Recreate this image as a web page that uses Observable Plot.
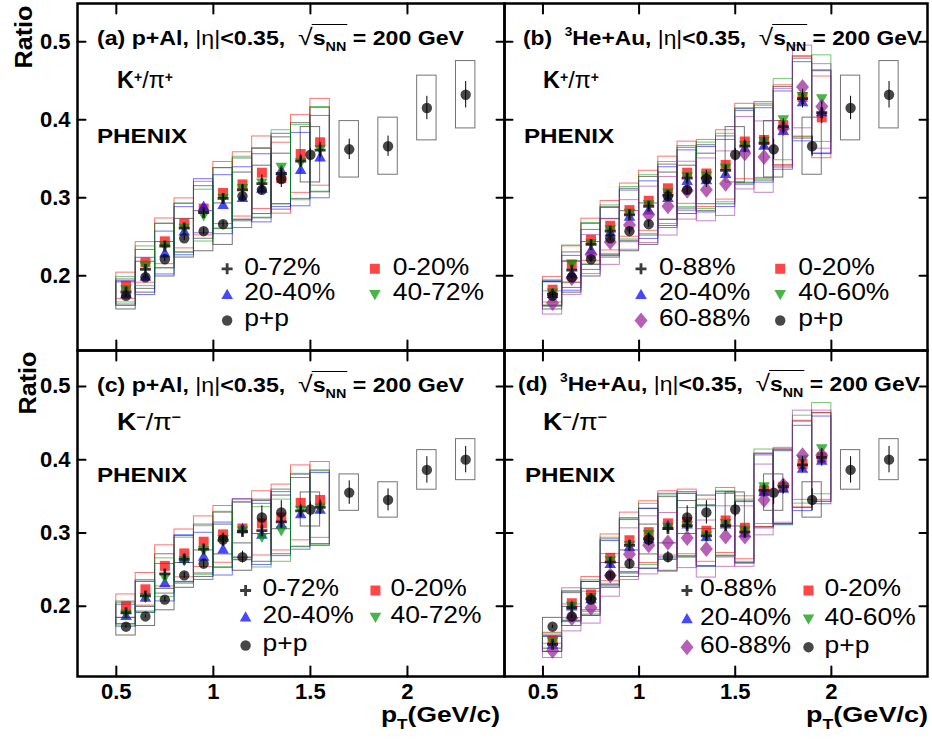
<!DOCTYPE html>
<html><head><meta charset="utf-8">
<script src="https://cdn.jsdelivr.net/npm/d3@7"></script>
<script src="https://cdn.jsdelivr.net/npm/@observablehq/plot@0.6"></script>
<style>
html,body{margin:0;padding:0;background:#fff;}
#wrap{position:relative;width:932px;height:741px;overflow:hidden;background:#fff;}
#wrap svg{position:absolute;}
</style></head><body><div id="wrap"></div>
<script>
// ---------------- DATA ----------------
const ptAl = [0.55,0.65,0.75,0.85,0.95,1.05,1.15,1.25,1.35,1.45,1.55];
const ptAu = [0.55,0.65,0.75,0.85,0.95,1.05,1.15,1.25,1.35,1.45,1.55,1.65,1.75,1.85,1.95];
const ptPP = [0.55,0.65,0.75,0.85,0.95,1.05,1.15,1.25,1.35,1.5,1.7,1.9,2.1,2.3];
const xTicks = [0.5,1,1.5,2];
const yTicks = [0.2,0.3,0.4,0.5];
const centAl = ["0-72%","0-20%","20-40%","40-72%"];
const centAu = ["0-88%","0-20%","20-40%","40-60%","60-88%"];
const ppLabel = "p+p";

// (a) p+Al K+/pi+
const alKp_0_72  = [0.179,0.208,0.238,0.261,0.281,0.299,0.310,0.318,0.331,0.347,0.361];
const alKp_0_20  = [0.187,0.217,0.244,0.267,0.286,0.306,0.317,0.332,0.325,0.356,0.371];
const alKp_20_40 = [0.177,0.199,0.229,0.257,0.289,0.291,0.300,0.312,0.335,0.336,0.352];
const alKp_40_72 = [0.182,0.212,0.238,0.261,0.277,0.299,0.312,0.319,0.339,0.345,0.362];
const alKp_0_72_stat = [0.002,0.003,0.003,0.004,0.004,0.005,0.007,0.011,0.008,0.008,0.010];
const alKp_sys = [0.09,0.12,0.12,0.12,0.12,0.13,0.13,0.14,0.14,0.14,0.15];

// (b) 3He+Au K+/pi+
const auKp_0_88  = [0.176,0.207,0.240,0.257,0.278,0.289,0.303,0.325,0.325,0.335,0.366,0.370,0.391,0.427,0.409];
const auKp_0_20  = [0.182,0.214,0.246,0.264,0.284,0.296,0.312,0.332,0.331,0.342,0.372,0.374,0.393,0.429,0.403];
const auKp_20_40 = [0.177,0.203,0.233,0.256,0.276,0.284,0.300,0.322,0.323,0.331,0.364,0.367,0.386,0.423,0.410];
const auKp_40_60 = [0.178,0.215,0.241,0.259,0.280,0.291,0.306,0.327,0.328,0.338,0.367,0.372,0.400,0.430,0.427];
const auKp_60_88 = [0.165,0.197,0.227,0.243,0.265,0.278,0.289,0.309,0.310,0.318,0.357,0.352,0.389,0.442,0.417];
const auKp_0_88_stat = [0.002,0.002,0.003,0.003,0.004,0.004,0.005,0.006,0.006,0.007,0.008,0.009,0.010,0.012,0.014];
const auKp_sys = [0.09,0.11,0.11,0.12,0.12,0.13,0.13,0.12,0.13,0.13,0.13,0.13,0.13,0.12,0.13];

// p+p K+/pi+
const ppKp      = [0.174,0.198,0.221,0.248,0.257,0.266,0.302,0.310,0.324,0.355,0.362,0.366,0.415,0.432];
const ppKp_stat = [0.002,0.002,0.003,0.003,0.004,0.004,0.005,0.006,0.011,0.008,0.013,0.013,0.015,0.017];
const ppKp_sys  = [0.10,0.10,0.10,0.10,0.10,0.10,0.10,0.10,0.10,0.10,0.10,0.10,0.10,0.10];

// (c) p+Al K-/pi-
const alKm_0_72  = [0.191,0.214,0.244,0.264,0.278,0.290,0.302,0.303,0.315,0.330,0.335];
const alKm_0_20  = [0.200,0.223,0.255,0.272,0.288,0.298,0.306,0.313,0.321,0.341,0.345];
const alKm_20_40 = [0.187,0.212,0.232,0.265,0.268,0.278,0.306,0.298,0.312,0.326,0.332];
const alKm_40_72 = [0.189,0.212,0.239,0.262,0.276,0.291,0.303,0.294,0.303,0.331,0.334];
const alKm_0_72_stat = [0.003,0.003,0.004,0.004,0.005,0.005,0.006,0.008,0.009,0.009,0.010];
const alKm_sys = [0.08,0.10,0.11,0.12,0.12,0.13,0.13,0.14,0.14,0.15,0.15];

// (d) 3He+Au K-/pi-
const auKm_0_88  = [0.148,0.198,0.210,0.260,0.283,0.292,0.306,0.310,0.296,0.310,0.301,0.358,0.363,0.393,0.403];
const auKm_0_20  = [0.153,0.204,0.216,0.266,0.290,0.301,0.313,0.315,0.303,0.317,0.307,0.358,0.363,0.394,0.403];
const auKm_20_40 = [0.148,0.200,0.210,0.258,0.281,0.292,0.310,0.312,0.295,0.312,0.300,0.356,0.361,0.388,0.399];
const auKm_40_60 = [0.152,0.200,0.212,0.262,0.283,0.298,0.308,0.310,0.296,0.313,0.303,0.363,0.362,0.400,0.415];
const auKm_60_88 = [0.139,0.184,0.198,0.242,0.271,0.283,0.287,0.293,0.278,0.295,0.295,0.345,0.365,0.406,0.406];
const auKm_0_88_stat = [0.003,0.003,0.003,0.004,0.004,0.005,0.005,0.006,0.006,0.007,0.008,0.009,0.010,0.011,0.012];
const auKm_sys = [0.07,0.10,0.11,0.12,0.13,0.14,0.14,0.14,0.14,0.14,0.14,0.14,0.14,0.15,0.15];

// p+p K-/pi-
const ppKm      = [0.172,0.186,0.209,0.242,0.258,0.291,0.267,0.321,0.328,0.332,0.355,0.345,0.386,0.400];
const ppKm_stat = [0.002,0.002,0.003,0.004,0.006,0.009,0.008,0.016,0.016,0.010,0.016,0.015,0.018,0.018];
const ppKm_sys  = [0.07,0.07,0.07,0.07,0.07,0.07,0.07,0.07,0.07,0.07,0.07,0.07,0.07,0.07];

// ---------------- STYLE ----------------
const FONT = '"Liberation Sans", Arial, Helvetica, sans-serif';
const poly = pts => ({draw(c){ c.moveTo(pts[0][0],pts[0][1]); for (const p of pts.slice(1)) c.lineTo(p[0],p[1]); c.closePath(); }});
const symSquare = poly([[-5,-5],[5,-5],[5,5],[-5,5]]);
const symTriUp = poly([[0,-5.8],[5.8,4.4],[-5.8,4.4]]);
const symTriDown = poly([[0,5.8],[5.8,-4.4],[-5.8,-4.4]]);
const symDiamond = poly([[0,-8],[6.5,0],[0,8],[-6.5,0]]);
const symCross = poly([[-1.4,-5.5],[1.4,-5.5],[1.4,-1.4],[5.5,-1.4],[5.5,1.4],[1.4,1.4],[1.4,5.5],[-1.4,5.5],[-1.4,1.4],[-5.5,1.4],[-5.5,-1.4],[-1.4,-1.4]]);
const symCircle = {draw(c){ c.moveTo(5.2,0); c.arc(0,0,5.2,0,2*Math.PI); }};
const STY = {
  all: {color:"#1a1a1a", op:0.85, sym:symCross,   box:"#000000", boxOp:0.5},
  c1:  {color:"#ff0000", op:0.72, sym:symSquare,  box:"#ff0000", boxOp:0.55},
  c2:  {color:"#0000ff", op:0.72, sym:symTriUp,   box:"#0000ff", boxOp:0.55},
  c3:  {color:"#009900", op:0.72, sym:symTriDown, box:"#009900", boxOp:0.55},
  c4:  {color:"#992299", op:0.72, sym:symDiamond, box:"#992299", boxOp:0.55},
  pp:  {color:"#000000", op:0.72, sym:symCircle,  box:"#444444", boxOp:0.75}
};
const tickShape = {draw(c, l){ c.moveTo(0,0); c.lineTo(0,-l); }};

// legend layout (data units of each panel)
const LEG = {
  a: {xs:[1.071,1.832], ys:[0.2088,0.1758,0.1425], dx:[17,18]},
  b: {xs:[1.010,1.734], ys:[0.2088,0.1758,0.1425], dx:[18,18]},
  c: {xs:[1.166,1.835], ys:[0.2214,0.1850,0.1463], dx:[17,15]},
  d: {xs:[1.249,1.881], ys:[0.2214,0.1827,0.1440], dx:[13,16]}
};

function makePanel(o) {
  const half = 0.05;
  const rows = (pts, vals, rel, stat) => vals.map((v,i)=>({x:pts[i], v, lo:v*(1-rel[i]), hi:v*(1+rel[i]), e: stat ? stat[i] : 0}));
  const ppRows = rows(ptPP, o.pp.values, o.pp.sys, o.pp.stat);
  const sRows = o.series.map(s => rows(o.pt, s.values, o.sys, s.stat));
  const marks = [];
  const box = (data, st) => Plot.rect(data, {x1:d=>d.x-half, x2:d=>d.x+half, y1:"lo", y2:"hi", fill:"none", stroke:st.box, strokeOpacity:st.boxOp, strokeWidth:1});
  const dot = (data, st) => Plot.dot(data, {x:"x", y:"v", symbol:st.sym, fill:st.color, fillOpacity:st.op, stroke:"none"});
  marks.push(box(ppRows, STY.pp));
  const order = o.series.map((s,i)=>i).filter(i=>o.series[i].style!=="all");
  const allIdx = o.series.findIndex(s=>s.style==="all");
  marks.push(box(sRows[allIdx], STY.all));
  for (const i of order) marks.push(box(sRows[i], STY[o.series[i].style]));
  for (const i of order) marks.push(dot(sRows[i], STY[o.series[i].style]));
  marks.push(dot(ppRows, STY.pp));
  marks.push(dot(sRows[allIdx], STY.all));
  marks.push(Plot.ruleX(ppRows, {x:"x", y1:d=>d.v-d.e, y2:d=>d.v+d.e, stroke:"black", strokeWidth:1}));
  marks.push(Plot.ruleX(sRows[allIdx], {x:"x", y1:d=>d.v-d.e, y2:d=>d.v+d.e, stroke:"black", strokeWidth:1}));
  // legend
  const L = LEG[o.key];
  const entries = [...o.series.map(s=>({label:s.label, style:s.style})), {label:ppLabel, style:"pp"}];
  entries.forEach((en,k)=>{
    const col = k%2, row = Math.floor(k/2), st = STY[en.style];
    marks.push(Plot.dot([en], {x:()=>L.xs[col], y:()=>L.ys[row], symbol:st.sym, fill:st.color, fillOpacity:st.op, stroke:"none"}));
    marks.push(Plot.text([en], {x:()=>L.xs[col], y:()=>L.ys[row], text:d=>d.label, textAnchor:"start", dx:L.dx[col], dy:-1.5, fontSize:23, fill:"black"}));
  });
  // ticks on all four sides, pointing inward
  const tk = (data, ch, anchor, rotate, len) => Plot.vector(data, {[ch]:d=>d, frameAnchor:anchor, rotate, length:len, anchor:"start", shape:tickShape, stroke:"black", strokeWidth:2});
  marks.push(tk(xTicks,"x","bottom",0,10), tk(xTicks,"x","top",180,10), tk(yTicks,"y","left",90,8), tk(yTicks,"y","right",270,8));
  if (o.yLabels) marks.push(Plot.axisY(yTicks, {anchor:"left", tickSize:0, tickPadding:7, fontSize:22, fontWeight:"bold", tickFormat:d=>String(d), label:null}));
  if (o.xLabels) marks.push(Plot.axisX(xTicks, {anchor:"bottom", tickSize:0, tickPadding:7, fontSize:22, fontWeight:"bold", tickFormat:d=>String(d), label:null}));
  marks.push(Plot.frame({stroke:"black", strokeWidth:2.5}));
  return Plot.plot({
    width:o.W, height:o.H, marginLeft:o.mL, marginRight:o.mR, marginTop:o.mT, marginBottom:o.mB,
    x:{domain:[0.3,2.5], axis:null}, y:{domain:[0.104,0.549], axis:null},
    style:{fontFamily:FONT, background:"transparent", overflow:"visible"},
    marks
  });
}

const wrap = document.getElementById("wrap");
function place(svg, left, top){ svg.style.left = left+"px"; svg.style.top = top+"px"; wrap.appendChild(svg); }

const sA = (labels, arrs, stat) => arrs.map((v,i)=>({label:labels[i], values:v, style: i===0 ? "all" : "c"+i, stat: i===0 ? stat : null}));

place(makePanel({key:"a", pt:ptAl, series:sA(centAl,[alKp_0_72,alKp_0_20,alKp_20_40,alKp_40_72], alKp_0_72_stat), sys:alKp_sys,
  pp:{values:ppKp, sys:ppKp_sys, stat:ppKp_stat}, W:504, H:350, mL:77, mR:0, mT:3, mB:0, yLabels:true, xLabels:false}), 0, 0);
place(makePanel({key:"b", pt:ptAu, series:sA(centAu,[auKp_0_88,auKp_0_20,auKp_20_40,auKp_40_60,auKp_60_88], auKp_0_88_stat), sys:auKp_sys,
  pp:{values:ppKp, sys:ppKp_sys, stat:ppKp_stat}, W:428, H:350, mL:0, mR:5, mT:3, mB:0, yLabels:false, xLabels:false}), 504, 0);
place(makePanel({key:"c", pt:ptAl, series:sA(centAl,[alKm_0_72,alKm_0_20,alKm_20_40,alKm_40_72], alKm_0_72_stat), sys:alKm_sys,
  pp:{values:ppKm, sys:ppKm_sys, stat:ppKm_stat}, W:504, H:391, mL:77, mR:0, mT:0, mB:65, yLabels:true, xLabels:true}), 0, 350);
place(makePanel({key:"d", pt:ptAu, series:sA(centAu,[auKm_0_88,auKm_0_20,auKm_20_40,auKm_40_60,auKm_60_88], auKm_0_88_stat), sys:auKm_sys,
  pp:{values:ppKm, sys:ppKm_sys, stat:ppKm_stat}, W:428, H:391, mL:0, mR:5, mT:0, mB:65, yLabels:false, xLabels:true}), 504, 350);

// widen legend text a little (the reference font is wide)
d3.selectAll('#wrap g[aria-label="text"] text').each(function(){
  const w = this.getComputedTextLength();
  if (w > 0) { this.setAttribute("textLength", w*1.15); this.setAttribute("lengthAdjust","spacingAndGlyphs"); }
});

// ---------------- ANNOTATIONS ----------------
const ov = d3.create("svg").attr("width",932).attr("height",741).attr("font-family",FONT)
  .style("left","0px").style("top","0px").style("overflow","visible").style("white-space","pre");
wrap.appendChild(ov.node());

function richText(x, y, parts, size, width) {
  const t = ov.append("text").attr("x",x).attr("y",y).attr("font-size",size).attr("fill","black").style("white-space","pre");
  let cur = 0;
  for (const p of parts) {
    const ts = t.append("tspan").text(p.t).attr("font-weight", p.w || "bold");
    const sh = p.sh || 0;
    if (sh !== cur) { ts.attr("dy", sh-cur); cur = sh; }
    if (p.sz) ts.attr("font-size", size*p.sz);
  }
  if (width) t.attr("textLength",width).attr("lengthAdjust","spacingAndGlyphs");
  return t;
}
const titleParts = (tag, sys) => [{t:`(${tag}) `}, ...sys, {t:", "}, {t:"|η|", w:"normal"}, {t:"<0.35,  "},
  {t:"√", w:"normal", sz:1.15}, {t:"s"}, {t:"NN", sz:0.62, sh:6}, {t:" = 200 GeV"}];
const titles = [
  {x:97,  y:45,  w:367, parts:titleParts("a",[{t:"p+Al"}])},
  {x:523, y:45,  w:399, parts:titleParts("b",[{t:" "},{t:"3", sz:0.6, sh:-9},{t:"He+Au"}])},
  {x:97,  y:392, w:367, parts:titleParts("c",[{t:"p+Al"}])},
  {x:518, y:391, w:402, parts:titleParts("d",[{t:" "},{t:"3", sz:0.6, sh:-9},{t:"He+Au"}])}
];
for (const T of titles) {
  const t = richText(T.x, T.y, T.parts, 20, T.w);
  const str = T.parts.map(p=>p.t).join("");
  const node = t.node();
  try {
    const e1 = node.getExtentOfChar(str.indexOf("√"));
    const e2 = node.getExtentOfChar(str.lastIndexOf("N"));
    const yl = T.y - 20.5;
    ov.append("line").attr("x1", e1.x + e1.width - 1).attr("x2", e2.x + e2.width + 1)
      .attr("y1", yl).attr("y2", yl).attr("stroke","black").attr("stroke-width",1.2);
  } catch(e) {}
}
const kPlus = [{t:"K"},{t:"+", sz:0.6, sh:-6},{t:"/", w:"normal"},{t:"π", w:"normal"},{t:"+", sz:0.6, sh:-6}];
const kMinus = [{t:"K"},{t:"−", sz:0.6, sh:-8},{t:"/", w:"normal"},{t:"π", w:"normal"},{t:"−", sz:0.6, sh:-8}];
richText(117, 88, kPlus, 24, 56);
richText(543, 88, kPlus, 24, 56);
richText(117, 430, kMinus, 24, 64);
richText(543, 430, kMinus, 24, 64);
for (const [x,y] of [[97,143],[524,143],[97,482],[525,482]]) richText(x, y, [{t:"PHENIX"}], 21, 90);
for (const [cx,cy] of [[32,37],[36,383]]) {
  ov.append("text").attr("transform",`translate(${cx},${cy}) rotate(-90)`).attr("x",-31.5).attr("y",0)
    .attr("font-size",24).attr("font-weight","bold").attr("textLength",63).attr("lengthAdjust","spacingAndGlyphs").text("Ratio");
}
const ptLab = [{t:"p"},{t:"T", sz:0.65, sh:7},{t:"(GeV/c)"}];
richText(381, 722, ptLab, 22, 119);
richText(806, 722, ptLab, 22, 122);
</script>
</body></html>
